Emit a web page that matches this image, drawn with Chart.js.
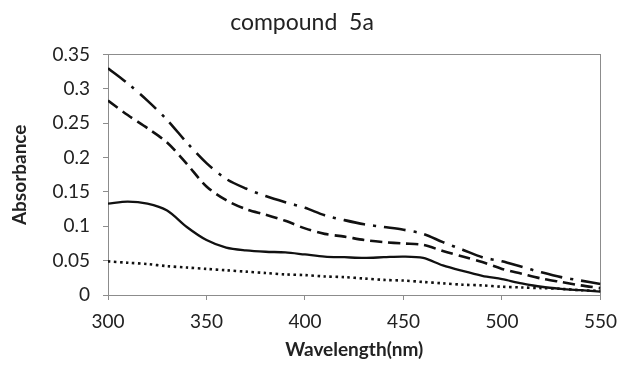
<!DOCTYPE html>
<html>
<head>
<meta charset="utf-8">
<script src="https://cdn.jsdelivr.net/npm/chart.js@4/dist/chart.umd.min.js"></script>
<style>
  html, body { margin: 0; padding: 0; background: #fff; }
  #wrap { width: 627px; height: 365px; }
</style>
</head>
<body>
<div id="wrap"><canvas id="c" width="627" height="365"></canvas></div>
<script>
const wavelengths = [300,310,320,330,340,350,360,370,380,390,400,410,420,430,440,450,460,470,480,490,500,510,520,530,540,550];
const seriesDashDot = [0.330,0.308,0.283,0.255,0.222,0.192,0.169,0.155,0.144,0.135,0.127,0.116,0.109,0.103,0.099,0.095,0.089,0.077,0.066,0.055,0.049,0.041,0.033,0.026,0.021,0.016];
const seriesDashed  = [0.283,0.262,0.243,0.222,0.191,0.158,0.138,0.125,0.117,0.108,0.097,0.089,0.085,0.080,0.077,0.075,0.073,0.064,0.056,0.048,0.038,0.031,0.024,0.019,0.014,0.010];
const seriesSolid   = [0.133,0.136,0.133,0.123,0.099,0.080,0.069,0.065,0.063,0.062,0.059,0.056,0.055,0.054,0.055,0.056,0.054,0.043,0.035,0.028,0.023,0.017,0.012,0.009,0.007,0.005];
const seriesDotted  = [0.049,0.047,0.045,0.042,0.040,0.038,0.036,0.034,0.032,0.030,0.029,0.027,0.026,0.024,0.022,0.021,0.019,0.017,0.015,0.014,0.012,0.011,0.010,0.009,0.007,0.006];
const xTicks = [300,350,400,450,500,550];
const yTicks = [0,0.05,0.1,0.15,0.2,0.25,0.3,0.35];

function pts(vals) { return wavelengths.map((w, i) => ({x: w, y: vals[i]})); }

const axisColor = '#8c8c8c';
const textColor = '#222';
const fontFam = 'Lato, "Open Sans", sans-serif';

new Chart(document.getElementById('c'), {
  type: 'line',
  data: {
    datasets: [
      {data: pts(seriesDashDot), borderColor: '#111', borderWidth: 2.6, borderDash: [22, 8, 3, 8], pointRadius: 0, tension: 0.3, fill: false},
      {data: pts(seriesDashed), borderColor: '#111', borderWidth: 2.6, borderDash: [12, 6], pointRadius: 0, tension: 0.3, fill: false},
      {data: pts(seriesSolid), borderColor: '#111', borderWidth: 2.3, pointRadius: 0, tension: 0.3, fill: false},
      {data: pts(seriesDotted), borderColor: '#111', borderWidth: 2.6, borderDash: [2.5, 3.5], pointRadius: 0, tension: 0.3, fill: false}
    ]
  },
  options: {
    responsive: false,
    animation: false,
    devicePixelRatio: 1,
    layout: { padding: { left: 0, right: 23, top: 0, bottom: 0 } },
    plugins: {
      legend: { display: false },
      tooltip: { enabled: false },
      title: {
        display: true,
        text: 'compound  5a',
        color: '#222',
        font: { family: fontFam, size: 23, weight: 'normal' },
        padding: { top: 9, bottom: 18 }
      }
    },
    scales: {
      x: {
        type: 'linear',
        position: 'bottom',
        min: 300, max: 550,
        afterBuildTicks: (s) => { s.ticks = xTicks.map(v => ({value: v})); },
        afterFit: (s) => { s.height = 70; },
        grid: { display: true, drawOnChartArea: false, drawTicks: true, tickLength: 5, color: axisColor },
        border: { display: true, color: axisColor, width: 1 },
        ticks: { color: textColor, font: { family: fontFam, size: 19 }, padding: 10, maxRotation: 0 },
        title: { display: true, text: 'Wavelength(nm)', color: '#222', font: { family: fontFam, size: 19, weight: 'bold' }, padding: { top: 0, bottom: 4 } }
      },
      y: {
        type: 'linear',
        position: 'left',
        min: 0, max: 0.35,
        afterBuildTicks: (s) => { s.ticks = yTicks.map(v => ({value: v})); },
        afterFit: (s) => { s.width = 108; },
        grid: { display: true, drawOnChartArea: false, drawTicks: true, tickLength: 5, color: axisColor },
        border: { display: true, color: axisColor, width: 1 },
        ticks: { color: textColor, font: { family: fontFam, size: 19 }, padding: 13, callback: (v) => String(Math.round(v * 100) / 100) },
        title: { display: true, text: 'Absorbance', color: '#222', font: { family: fontFam, size: 19, weight: 'bold' }, padding: { top: 8, bottom: 0 } }
      },
      xTop: {
        type: 'linear', position: 'top', min: 300, max: 550,
        grid: { display: false }, ticks: { display: false },
        border: { display: true, color: axisColor, width: 1 },
        afterFit: (s) => { s.height = 0; }
      },
      yRight: {
        type: 'linear', position: 'right', min: 0, max: 0.35,
        grid: { display: false }, ticks: { display: false },
        border: { display: true, color: axisColor, width: 1 },
        afterFit: (s) => { s.width = 0; }
      }
    }
  }
});
</script>
</body>
</html>
